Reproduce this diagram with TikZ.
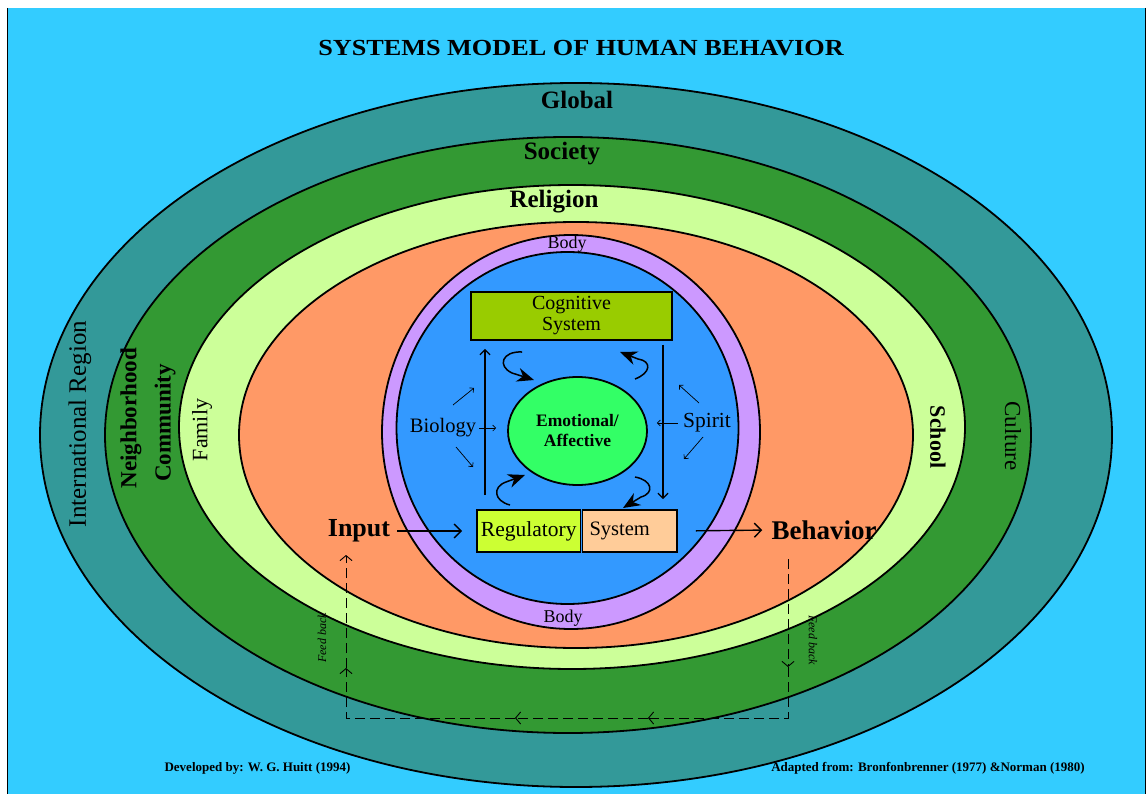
\documentclass[tikz,border=0pt]{standalone}
\usepackage{fontspec}
\setmainfont{Liberation Serif}
\usetikzlibrary{arrows.meta,shapes.geometric,calc}
\definecolor{bgc}{HTML}{33CCFF}
\definecolor{globc}{HTML}{339999}
\definecolor{socc}{HTML}{339933}
\definecolor{relc}{HTML}{CCFF99}
\definecolor{orac}{HTML}{FF9966}
\definecolor{purc}{HTML}{CC99FF}
\definecolor{bluc}{HTML}{3399FF}
\definecolor{emoc}{HTML}{33FF66}
\definecolor{cogc}{HTML}{99CC00}
\definecolor{regc}{HTML}{CCFF33}
\definecolor{sysc}{HTML}{FFCC99}
\newcommand\fsz[2]{\fontsize{#1}{#2}\selectfont}
\begin{document}
\begin{tikzpicture}[x=1pt,y=-1pt,
  ring/.style={draw=black, line width=1.8pt},
  lbl/.style={inner sep=0pt},
  box/.style={draw=black, line width=1.8pt, inner sep=0pt},
  arr/.style={line width=1.3pt, -{Straight Barb[length=5pt,width=10pt]}},
  bigarr/.style={line width=1.4pt, -{Straight Barb[length=7pt,width=14pt]}},
  sarr/.style={line width=0.7pt, -{Straight Barb[length=3pt,width=6pt]}},
  curl/.style={line width=1.5pt, -{Stealth[length=17pt,width=14pt]}},
  fb/.style={line width=0.9pt, dash pattern=on 10pt off 5pt},
  fbarr/.style={fb, -{Straight Barb[length=5pt,width=12pt]}}]
\useasboundingbox (0,0) rectangle (1148,794);
\fill[white] (0,0) rectangle (1148,794);
\fill[bgc] (8,8) rectangle (1145,794);
\draw[line width=1.5pt] (7.5,8) -- (7.5,794);
\draw[line width=1.5pt] (1145.5,8) -- (1145.5,794);

% rings
\filldraw[ring, fill=globc] (576,435) ellipse [x radius=536pt, y radius=352pt];
\filldraw[ring, fill=socc] (568,435) ellipse [x radius=463pt, y radius=298pt];
\filldraw[ring, fill=relc] (572,427) ellipse [x radius=393pt, y radius=242pt];
\filldraw[ring, fill=orac] (576,435) ellipse [x radius=337pt, y radius=213pt];
\filldraw[ring, fill=purc] (571,432) ellipse [x radius=189pt, y radius=197pt];
\filldraw[ring, fill=bluc] (567.5,428) ellipse [x radius=171pt, y radius=176pt];

% title and ring labels
\node[lbl, font=\bfseries\fsz{23}{27}, xscale=1.14] (title) at (581,48) {SYSTEMS MODEL OF HUMAN BEHAVIOR};
\node[lbl, font=\bfseries\fsz{25}{29}] (global) at (577,100) {Global};
\node[lbl, font=\bfseries\fsz{25}{29}] (society) at (562,154) {Society};
\node[lbl, font=\bfseries\fsz{25}{29}] (religion) at (554,202) {Religion};
\node[lbl, rotate=90, font=\fsz{25}{30}] (intl) at (80,424) {International Region};
\node[lbl, rotate=90, font=\bfseries\fsz{23}{27}] (neigh) at (131,418) {Neighborhood};
\node[lbl, rotate=90, font=\bfseries\fsz{23}{27}] (comm) at (165,423) {Community};
\node[lbl, rotate=90, font=\fsz{22}{26}] (family) at (202,430) {Family};
\node[lbl, rotate=-90, font=\bfseries\fsz{22}{26}] (school) at (938,437) {School};
\node[lbl, rotate=-90, font=\fsz{23}{27}] (culture) at (1013,436) {Culture};
\node[lbl, font=\fsz{18}{21}] (bodyT) at (567,244) {Body};
\node[lbl, font=\fsz{18}{21}] (bodyB) at (563,618) {Body};

% inner systems
\node[box, fill=cogc, minimum width=201pt, minimum height=48pt, align=center, font=\fsz{20}{21}] (cog) at (571.5,316) {Cognitive\\System};
\node[draw=black, ellipse, line width=1.8pt, fill=emoc, minimum width=139pt, minimum height=108pt, inner sep=0pt, align=center, font=\bfseries\fsz{17.5}{20}] (emo) at (577.5,431) {Emotional/\\Affective};
\node[box, fill=regc, minimum width=103.5pt, minimum height=42pt, font=\fsz{21.5}{24}] (reg) at (528.75,531) {Regulatory};
\node[box, fill=sysc, minimum height=42pt, text width=80.5pt, inner xsep=7pt, align=left, font=\fsz{20.5}{24}] (sys) at (629.75,531) {System};
\node[lbl, font=\fsz{20.5}{24}] (biology) at (443,428) {Biology};
\node[lbl, font=\fsz{21.5}{25}] (spirit) at (707,423) {Spirit};
\node[lbl, font=\bfseries\fsz{26}{30}] (input) at (359,531) {Input};
\node[lbl, font=\bfseries\fsz{27}{31}] (behavior) at (824,530) {Behavior};
\node[lbl, rotate=90, font=\itshape\fsz{12}{14}] (fbtL) at (322,638) {Feed back};
\node[lbl, rotate=-90, font=\itshape\fsz{12}{14}] (fbtR) at (813,640) {Feed back};
\node[lbl, font=\bfseries\fsz{13}{15}] (dev) at (257.5,768) {Developed by: W. G. Huitt (1994)};
\node[lbl, font=\bfseries\fsz{13}{15}] (adapt) at (928,768) {Adapted from: Bronfonbrenner (1977) \&Norman (1980)};

% vertical arrows between regulatory and cognitive systems
\coordinate (lx) at (485,0);
\coordinate (rx) at (663,0);
\draw[arr, shorten <=14pt, shorten >=8pt] (reg.north -| lx) -- (cog.south -| lx);
\draw[arr, shorten <=4pt, shorten >=10pt] (cog.south -| rx) -- (sys.north -| rx);

% input / behavior
\draw[bigarr, shorten <=7pt, shorten >=14pt] (input.east) -- (reg.west);
\draw[bigarr, shorten <=18pt, shorten >=9pt] (sys.east) -- (behavior.west);

% small arrows (biology / spirit)
\draw[sarr, shorten <=3pt] (biology.east) -- ++(20,0);
\draw[sarr] ($(biology)+(10,-23)$) -- ++(21,-17);
\draw[sarr] ($(biology)+(13,19)$) -- ++(17,20);
\draw[sarr, shorten <=5pt] (spirit.west) -- ++(-26,0);
\draw[sarr] ($(spirit)+(-8,-20)$) -- ++(-20,-18);
\draw[sarr] ($(spirit)+(-4,14)$) -- ++(-19,22);

% curly arrows
\draw[curl] (522,352) .. controls (502,351) and (497,366) .. (512,373) -- (534,380);
\draw[curl] (635,379) .. controls (651,373) and (652,361) .. (638,359) -- (620,352);
\draw[curl] (510,505) .. controls (494,501) and (492,487) .. (506,482) -- (525,475);
\draw[curl] (635,477) .. controls (652,480) and (655,493) .. (641,497) -- (623,508);

% feedback loop
\coordinate (fb1) at (788,559);
\coordinate (fb2) at (788,667);
\coordinate (fb3) at (788,718);
\coordinate (fb4) at (648,718);
\coordinate (fb5) at (515,718);
\coordinate (fb6) at (346,718);
\coordinate (fb7) at (346,668);
\coordinate (fb8) at (346,555);
\draw[fbarr] (fb1) -- (fb2);
\draw[fbarr] (fb2) -- (fb3) -- (fb4);
\draw[fbarr] (fb4) -- (fb5);
\draw[fbarr] (fb5) -- (fb6) -- (fb7);
\draw[fbarr] (fb7) -- (fb8);
\end{tikzpicture}
\end{document}
